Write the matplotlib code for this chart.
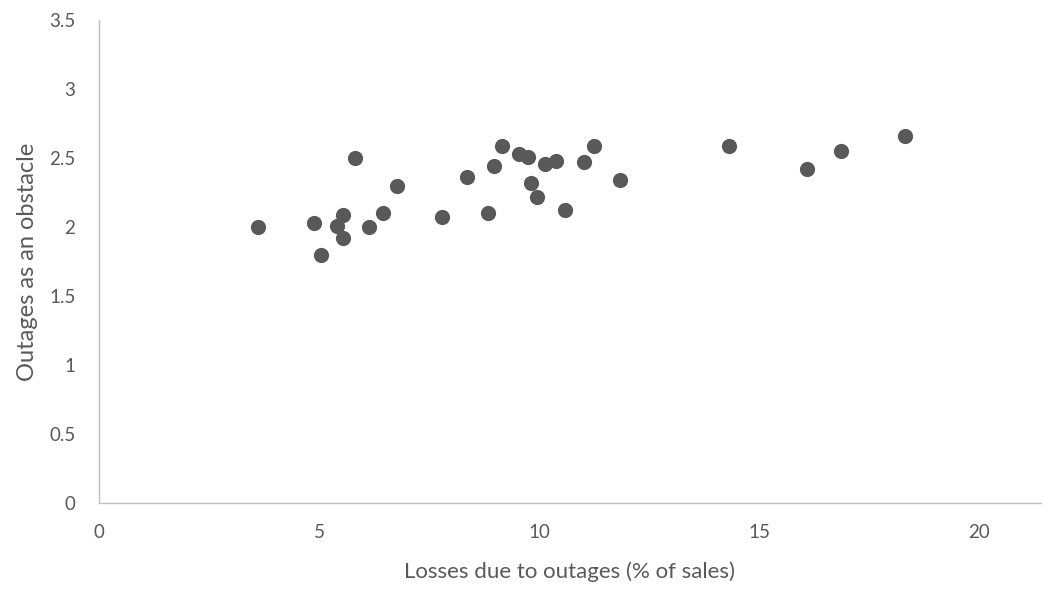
import numpy as np
import matplotlib
matplotlib.use("Agg")
from matplotlib import pyplot as plt

# Losses due to outages (% of sales)
losses = [3.61, 4.89, 5.05, 5.41, 5.55, 5.55, 5.82, 6.14, 6.45, 6.77,
          7.80, 8.36, 8.84, 8.98, 9.16, 9.55, 9.75, 9.82, 9.95, 10.14,
          10.39, 10.59, 11.02, 11.25, 11.84, 14.32, 16.09, 16.86, 18.30]
# Outages as an obstacle
obstacle = [2.00, 2.03, 1.80, 2.01, 2.09, 1.92, 2.50, 2.00, 2.10, 2.30,
            2.07, 2.36, 2.10, 2.44, 2.59, 2.53, 2.51, 2.32, 2.22, 2.46,
            2.48, 2.12, 2.47, 2.59, 2.34, 2.59, 2.42, 2.55, 2.66]

xticks = [0, 5, 10, 15, 20]
yticks = [0, 0.5, 1, 1.5, 2, 2.5, 3, 3.5]

plt.rcParams['font.family'] = ['Lato', 'DejaVu Sans']
grijs = '#595959'

fig = plt.figure(figsize=(10.55, 5.92), dpi=100)
ax = fig.add_axes([0.0938, 0.1503, 0.8929, 0.8159])

ax.scatter(losses, obstacle, s=120, color='#595959', zorder=3, linewidths=0)

ax.set_xlim(0, 21.4)
ax.set_ylim(0, 3.5)
ax.set_xticks(xticks)
ax.set_xticklabels([str(t) for t in xticks])
ax.set_yticks(yticks)
ax.set_yticklabels(['0', '0.5', '1', '1.5', '2', '2.5', '3', '3.5'])

for s in ['top', 'right']:
    ax.spines[s].set_visible(False)
for s in ['left', 'bottom']:
    ax.spines[s].set_color('#bfbfbf')
    ax.spines[s].set_linewidth(1.0)

ax.tick_params(axis='both', length=0, labelsize=13.5, labelcolor=grijs)
ax.tick_params(axis='y', pad=17)
ax.tick_params(axis='x', pad=15)

ax.set_xlabel('Losses due to outages (% of sales)', fontsize=16, color=grijs, labelpad=15)
ax.set_ylabel('Outages as an obstacle', fontsize=17, color=grijs, labelpad=8)

fig.savefig('out.png', dpi=100)
